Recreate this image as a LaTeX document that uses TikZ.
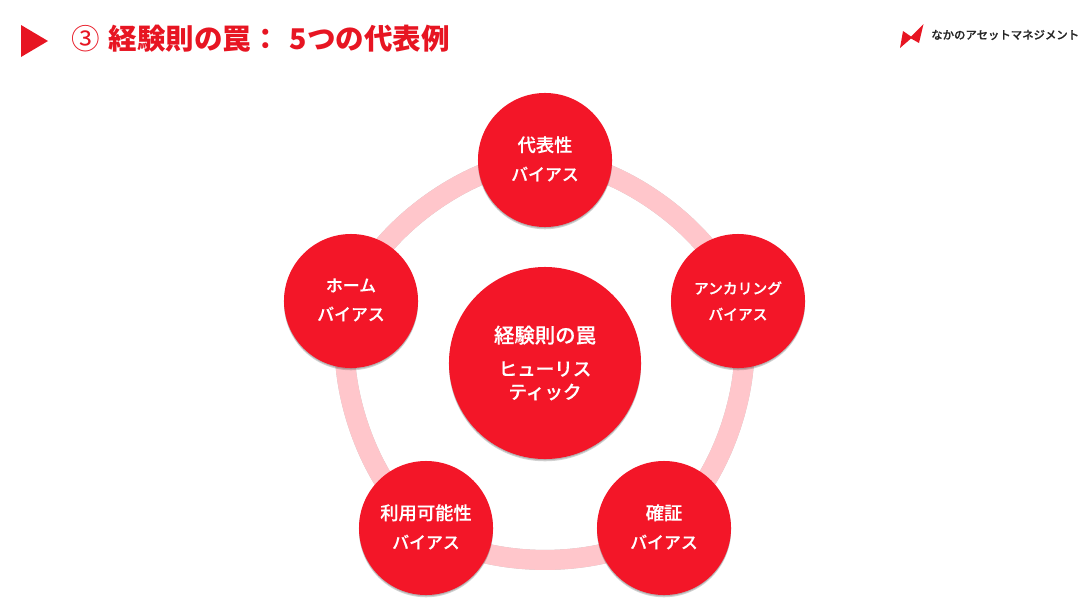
\documentclass[tikz,border=0pt]{standalone}
\usepackage{fontspec}
\setmainfont{Noto Sans CJK JP}
\newfontfamily\midfont[FakeBold=0.35]{Noto Sans CJK JP Medium}
\usetikzlibrary{shadows,backgrounds}
\definecolor{mainred}{HTML}{F31628}
\definecolor{titlered}{HTML}{E71522}
\definecolor{ringpink}{HTML}{FFC6CB}
\newcommand{\kanjiline}[1]{{\fontsize{13}{20.6}\selectfont #1}}
\tikzset{
    softshadow/.style={general shadow={shadow yshift=-0.8pt,opacity=.14,fill=black,scale=1.018},
        general shadow={shadow yshift=-1.6pt,opacity=.18,fill=black}},
    biasnode/.style={circle,fill=mainred,text=white,minimum size=3.35cm,inner sep=0pt,align=center,
        font=\midfont\fontsize{12}{20.6}\selectfont,softshadow},
    ringarc/.style={ringpink,line width=0.5cm},
    ringshade/.style={black!60,line width=0.5cm,opacity=.4,yshift=-1.2pt}
}

\begin{document}
\begin{tikzpicture}[x=0.025cm,y=-0.025cm]
    \useasboundingbox (0,0) rectangle (1090,613);

    % header
    \fill[titlered] (21,25) -- (48,41) -- (21,57) -- cycle;
    \node[anchor=west,inner sep=0pt,text=titlered,font=\bfseries\fontsize{20.3}{24}\selectfont] (title) at (71,39) {{\mdseries ③}\hspace{6.3pt}経験則の罠：\hspace{7pt}5つの代表例};

    % logo
    \fill[titlered] (900,48) -- (903,31) -- (911,36.5) -- (923.5,24) -- (919,43) -- (911,38.5) -- cycle;
    \node[anchor=west,inner sep=0pt,text=black!85,font=\midfont\fontsize{8.1}{9}\selectfont] (logo) at (931,35) {なかのアセットマネジメント};

    % circles
    \node[biasnode] (daihyo) at (545,160) {\kanjiline{代表性}\\バイアス\\[-18.4pt]};
    \node[biasnode,font=\midfont\fontsize{10.5}{18.5}\selectfont] (anchoring) at (738,301) {アンカリング\\バイアス};
    \node[biasnode] (kakusho) at (664,528) {\kanjiline{確証}\\バイアス\\[-18.4pt]};
    \node[biasnode] (riyou) at (426,528) {\kanjiline{利用可能性}\\バイアス\\[-18.4pt]};
    \node[biasnode] (home) at (351,301) {ホーム\\バイアス\\[-18.4pt]};
    \node[biasnode,minimum size=4.8cm,font=\midfont\fontsize{13.2}{16.4}\selectfont] (center) at (545,363) {{\fontsize{14.5}{16.4}\selectfont 経験則の罠}\\[7pt]ヒューリス\\ティック};

    % ring
    \begin{scope}[on background layer]
        \foreach \a/\b in {daihyo/anchoring,anchoring/kakusho,kakusho/riyou,riyou/home,home/daihyo}{
            \draw[ringshade] (\a.center) to[bend left=36,looseness=0.78] (\b.center);
            \draw[ringarc] (\a.center) to[bend left=36,looseness=0.78] (\b.center);
        }
    \end{scope}
\end{tikzpicture}
\end{document}
